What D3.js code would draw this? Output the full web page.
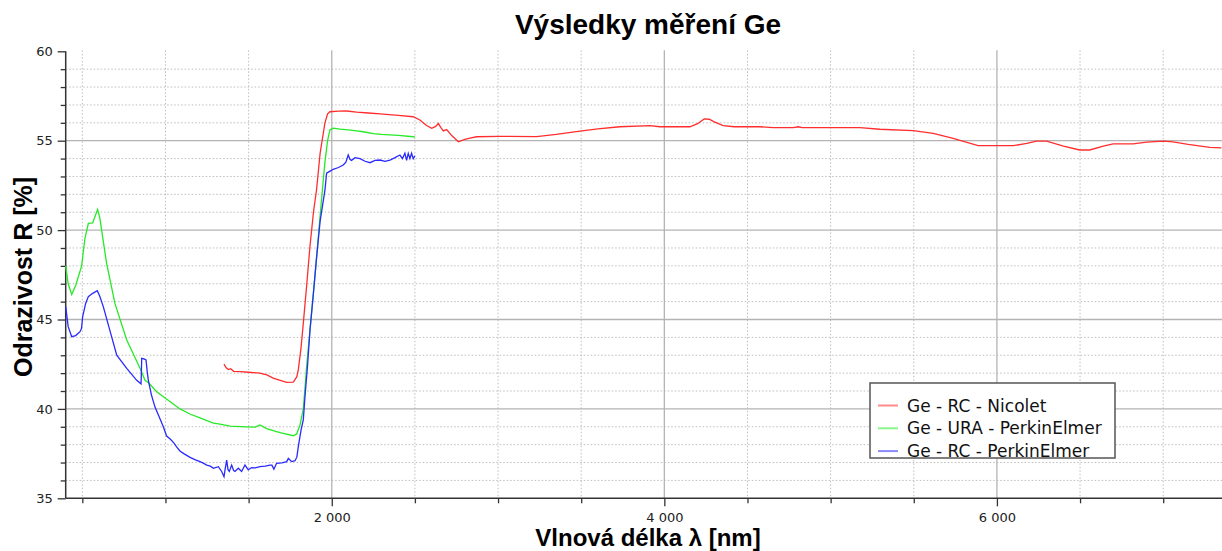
<!DOCTYPE html>
<html>
<head>
<meta charset="utf-8">
<script src="https://cdn.jsdelivr.net/npm/d3@7"></script>
<style>
  body { margin: 0; background: #fff; }
  svg { display: block; }
</style>
</head>
<body>
<div id="chart"></div>
<script>
// Série : [vlnová délka nm, odrazivost %]
const geRcNicolet = [
  [1352,42.5],[1365,42.3],[1378,42.2],[1392,42.25],[1410,42.1],[1448,42.08],[1500,42.05],[1568,42.0],
  [1610,41.9],[1648,41.72],[1690,41.6],[1729,41.48],[1769,41.5],[1790,41.8],[1799,42.2],[1815,43.4],
  [1829,44.8],[1850,47.0],[1869,49.1],[1890,51.0],[1909,52.3],[1930,54.3],[1959,56.0],[1975,56.5],
  [1989,56.62],[2040,56.65],[2089,56.66],[2150,56.6],[2220,56.55],[2290,56.5],[2400,56.42],[2490,56.34],
  [2530,56.16],[2570,55.85],[2601,55.69],[2625,55.8],[2641,55.97],[2655,55.75],[2671,55.55],[2691,55.62],
  [2720,55.3],[2761,54.94],[2800,55.08],[2831,55.15],[2871,55.22],[3000,55.24],[3232,55.23],[3350,55.35],
  [3493,55.54],[3600,55.66],[3733,55.78],[3913,55.84],[3973,55.78],[4154,55.78],[4200,55.95],[4240,56.22],
  [4270,56.2],[4300,56.05],[4354,55.84],[4420,55.78],[4575,55.78],[4655,55.73],[4775,55.73],[4805,55.78],
  [4830,55.73],[5176,55.73],[5296,55.64],[5497,55.56],[5617,55.41],[5737,55.13],[5887,54.72],[6098,54.72],
  [6180,54.85],[6239,54.98],[6299,54.98],[6400,54.7],[6498,54.48],[6558,54.48],[6640,54.7],[6699,54.82],
  [6819,54.82],[6900,54.92],[7000,54.98],[7060,54.94],[7150,54.8],[7281,54.63],[7350,54.6]
];
const geUraPerkin = [
  [400,48.0],[415,47.0],[436,46.4],[460,46.9],[496,48.0],[515,49.5],[536,50.38],[562,50.4],[578,50.8],
  [592,51.16],[605,50.7],[616,50.0],[646,48.14],[696,45.9],[767,43.85],[847,42.27],[877,41.6],[900,41.45],
  [947,40.96],[1000,40.6],[1087,40.0],[1150,39.7],[1208,39.5],[1288,39.2],[1328,39.15],[1388,39.04],
  [1488,39.0],[1540,38.98],[1568,39.1],[1608,38.9],[1648,38.78],[1689,38.67],[1769,38.5],[1789,38.6],
  [1809,39.1],[1829,40.0],[1850,42.5],[1869,44.4],[1890,46.5],[1909,48.5],[1930,50.8],[1949,52.8],
  [1959,53.8],[1975,55.0],[1989,55.6],[2009,55.7],[2050,55.65],[2100,55.6],[2150,55.55],[2189,55.5],
  [2250,55.4],[2300,55.35],[2400,55.3],[2490,55.22],[2500,55.2]
];
const geRcPerkin = [
  [400,45.72],[415,44.6],[436,44.04],[460,44.1],[486,44.32],[495,44.5],[502,45.16],[520,45.9],[536,46.28],
  [560,46.45],[590,46.61],[605,46.3],[626,45.72],[676,44.04],[707,43.0],[767,42.27],[827,41.6],[853,41.4],
  [855,42.0],[857,42.83],[870,42.8],[883,42.74],[890,42.1],[897,41.6],[915,40.8],[937,40.1],[960,39.6],
  [987,39.0],[1007,38.48],[1030,38.3],[1050,38.1],[1067,37.88],[1087,37.65],[1110,37.5],[1148,37.29],
  [1180,37.15],[1208,37.05],[1230,36.95],[1248,36.86],[1270,36.8],[1288,36.68],[1318,36.77],[1338,36.5],
  [1352,36.21],[1360,36.7],[1368,37.14],[1376,36.6],[1384,36.5],[1398,36.86],[1410,36.55],[1418,36.5],
  [1438,36.68],[1458,36.5],[1478,36.86],[1498,36.59],[1518,36.72],[1540,36.7],[1568,36.77],[1600,36.8],
  [1628,36.86],[1640,36.85],[1652,36.63],[1668,36.96],[1700,36.98],[1729,37.05],[1739,37.23],[1759,37.05],
  [1779,37.1],[1790,37.3],[1799,37.9],[1815,38.8],[1829,39.4],[1839,40.68],[1855,42.5],[1869,44.4],
  [1890,46.5],[1909,48.5],[1930,50.5],[1959,52.24],[1969,53.18],[1990,53.3],[2009,53.4],[2040,53.5],
  [2069,53.64],[2085,53.8],[2099,54.2],[2110,53.95],[2119,53.9],[2140,54.05],[2170,54.0],[2200,53.85],
  [2230,53.77],[2260,53.9],[2290,53.92],[2320,53.85],[2350,53.92],[2380,54.05],[2410,54.2],[2425,54.0],
  [2440,54.3],[2450,53.9],[2460,54.29],[2470,54.0],[2480,54.3],[2490,54.0],[2500,54.15]
];

const seriesNames = ["Ge - RC - Nicolet", "Ge - URA - PerkinElmer", "Ge - RC - PerkinElmer"];
const xTicksMajor = [2000, 4000, 6000];
const yTicksMajor = [35, 40, 45, 50, 55, 60];

const width = 1222, height = 551;
const x = d3.scaleLinear().domain([400, 7350]).range([65.7, 1221.4]);
const y = d3.scaleLinear().domain([35, 60]).range([498.3, 51.3]);

const svg = d3.select("#chart").append("svg")
  .attr("width", width).attr("height", height);

// mřížka
const grid = svg.append("g");
const xMinor = d3.range(500, 7350, 500).filter(v => v % 2000 !== 0);
const yMinor = d3.range(36, 60, 1).filter(v => v % 5 !== 0);

grid.selectAll(".vminor").data(xMinor).join("line")
  .attr("x1", d => x(d)).attr("x2", d => x(d))
  .attr("y1", y(60) - 1).attr("y2", y(35))
  .attr("stroke", "#bdbdbd").attr("stroke-dasharray", "1.5,2");
grid.selectAll(".hminor").data(yMinor).join("line")
  .attr("x1", x(400)).attr("x2", width)
  .attr("y1", d => y(d)).attr("y2", d => y(d))
  .attr("stroke", "#bdbdbd").attr("stroke-dasharray", "1.5,2");
grid.selectAll(".vmajor").data(xTicksMajor).join("line")
  .attr("x1", d => x(d)).attr("x2", d => x(d))
  .attr("y1", y(60) - 1).attr("y2", y(35))
  .attr("stroke", "#b4b4b4").attr("stroke-width", 1.3);
grid.selectAll(".hmajor").data(yTicksMajor.filter(v => v > 35 && v < 60)).join("line")
  .attr("x1", x(400)).attr("x2", width)
  .attr("y1", d => y(d)).attr("y2", d => y(d))
  .attr("stroke", "#b4b4b4").attr("stroke-width", 1.3);

// osy
const xAxis = svg.append("g").attr("transform", `translate(0,${y(35)})`);
xAxis.append("g")
  .call(d3.axisBottom(x).tickValues(xMinor).tickSize(5).tickFormat(""))
  .call(g => g.select(".domain").remove());
xAxis.append("g")
  .call(d3.axisBottom(x).tickValues(xTicksMajor).tickSize(8).tickPadding(6)
    .tickFormat(d => d3.format(",")(d).replace(",", " ")))
  .call(g => g.select(".domain").remove());
xAxis.selectAll("line").attr("stroke", "#333").attr("stroke-width", 1.3);
xAxis.selectAll("text").attr("font-family", "DejaVu Sans").attr("font-size", 13).attr("fill", "#222");
xAxis.append("line").attr("x1", x(400)).attr("x2", width).attr("stroke", "#333").attr("stroke-width", 1.5);

const yAxis = svg.append("g").attr("transform", `translate(${x(400)},0)`);
yAxis.append("g")
  .call(d3.axisLeft(y).tickValues(yMinor).tickSize(5).tickFormat(""))
  .call(g => g.select(".domain").remove());
yAxis.append("g")
  .call(d3.axisLeft(y).tickValues(yTicksMajor).tickSize(8).tickPadding(5))
  .call(g => g.select(".domain").remove());
yAxis.selectAll("line").attr("stroke", "#333").attr("stroke-width", 1.3);
yAxis.selectAll("text").attr("font-family", "DejaVu Sans").attr("font-size", 13).attr("fill", "#222");
yAxis.append("line").attr("y1", y(60)).attr("y2", y(35)).attr("stroke", "#333").attr("stroke-width", 1.5);

// křivky
const line = d3.line().x(d => x(d[0])).y(d => y(d[1]));
const allSeries = [geRcNicolet, geUraPerkin, geRcPerkin];
const lineColors = ["#ff2e2e", "#26ea26", "#2a2aff"];
const swatchColors = ["#ff8a8a", "#8cf58c", "#8a8aff"];

svg.append("g").selectAll("path").data(allSeries).join("path")
  .attr("d", line)
  .attr("fill", "none")
  .attr("stroke", (d, i) => lineColors[i])
  .attr("stroke-width", 1.3);

// legenda
const legend = svg.append("g").attr("transform", "translate(870,383)");
legend.append("rect").attr("width", 245).attr("height", 75)
  .attr("fill", "#fff").attr("stroke", "#555").attr("stroke-width", 1.5);
const rows = legend.selectAll(".row").data(seriesNames).join("g")
  .attr("transform", (d, i) => `translate(0,${22.5 + i * 22.8})`);
rows.append("line").attr("x1", 8).attr("x2", 28)
  .attr("stroke", (d, i) => swatchColors[i]).attr("stroke-width", 2);
rows.append("text").attr("x", 37).attr("dy", "0.36em")
  .attr("font-family", "DejaVu Sans").attr("font-size", 17).attr("fill", "#111")
  .text(d => d);

// popisky
svg.append("text").attr("x", 648).attr("y", 34)
  .attr("text-anchor", "middle").attr("font-family", "Liberation Sans")
  .attr("font-weight", "bold").attr("font-size", 28).text("Výsledky měření Ge");
svg.append("text").attr("x", 648).attr("y", 546)
  .attr("text-anchor", "middle").attr("font-family", "Liberation Sans")
  .attr("font-weight", "bold").attr("font-size", 24).text("Vlnová délka λ [nm]");
svg.append("text").attr("transform", "translate(32,277) rotate(-90)")
  .attr("text-anchor", "middle").attr("font-family", "Liberation Sans")
  .attr("font-weight", "bold").attr("font-size", 25).text("Odrazivost R [%]");
</script>
</body>
</html>
